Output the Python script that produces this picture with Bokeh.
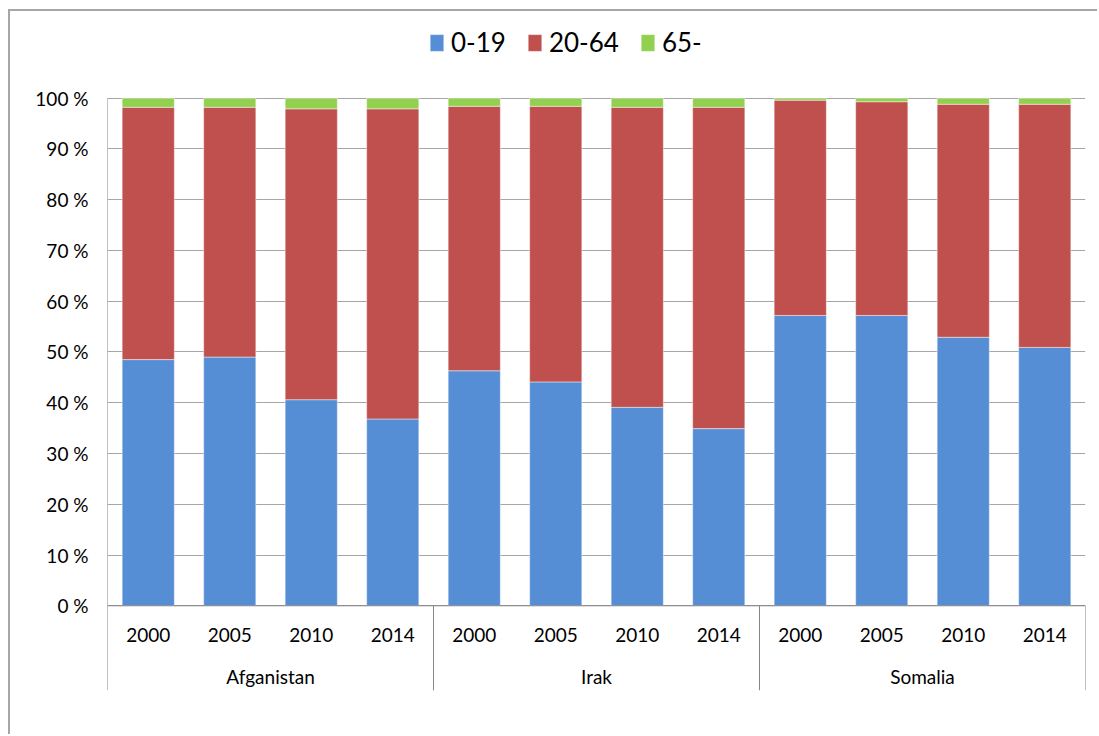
from bokeh.plotting import figure
from bokeh.models import (FactorRange, Range1d, ColumnDataSource, FixedTicker,
                          PrintfTickFormatter, Legend, LegendItem, Span)
from bokeh.core.properties import value
from bokeh.embed import file_html
from bokeh.resources import INLINE

countries = ["Afganistan", "Irak", "Somalia"]
years = ["2000", "2005", "2010", "2014"]
age_groups = ["0-19", "20-64", "65-"]
colors = ["#558ED5", "#C0504D", "#92D050"]

share_0_19 = [48.5, 49.0, 40.6, 36.8, 46.3, 44.1, 39.1, 34.9, 57.2, 57.2, 52.9, 50.9]
share_20_64 = [49.7, 49.2, 57.3, 61.1, 52.1, 54.3, 59.1, 63.3, 42.4, 42.1, 45.9, 47.9]
share_65 = [1.8, 1.8, 2.1, 2.1, 1.6, 1.6, 1.8, 1.8, 0.4, 0.7, 1.2, 1.2]
y_ticks = list(range(0, 101, 10))

FONT = "Lato"
AXIS_GRAY = "#868686"
factors = [(c, y) for c in countries for y in years]
src = ColumnDataSource(dict(x=factors, year=[f[1] for f in factors],
                            young=share_0_19, working=share_20_64, old=share_65))

x_range = FactorRange(*factors, factor_padding=0, group_padding=0, subgroup_padding=0, range_padding=0)
y_range = Range1d(-16.69, 115.3)

p = figure(x_range=x_range, y_range=y_range, width=1089, height=725,
           output_backend="svg", toolbar_location=None, x_axis_location=None,
           min_border_left=97, min_border_right=14, min_border_top=9, min_border_bottom=46)
p.styles = {"margin-left": "8px", "margin-top": "9px",
            "border-left": "2px solid #a6a6a6", "border-top": "2px solid #a6a6a6"}
p.outline_line_color = None
p.background_fill_color = "white"
p.border_fill_color = "white"

renderers = p.vbar_stack(["young", "working", "old"], x="x", width=0.64, color=colors,
                         source=src, line_color="white", line_alpha=0.45, line_width=1)

# y axis (labels only; axis line drawn as the left boundary)
p.yaxis.ticker = FixedTicker(ticks=y_ticks)
p.yaxis.formatter = PrintfTickFormatter(format="%d %%")
p.yaxis.major_tick_out = 0
p.yaxis.major_tick_in = 0
p.yaxis.minor_tick_line_color = None
p.yaxis.axis_line_color = None
p.yaxis.major_label_text_font = FONT
p.yaxis.major_label_text_font_size = "19px"
p.yaxis.major_label_text_color = "black"
p.yaxis.major_label_standoff = 19
p.xgrid.visible = False
p.ygrid.grid_line_color = "#a6a6a6"

# category axis line at 0
p.add_layout(Span(location=0, dimension="width", line_color=AXIS_GRAY, line_width=1))

# group separators (left one doubles as the value-axis line)
bounds = [(c, years[0], -0.5) for c in countries] + [(countries[-1], years[-1], 0.5)]
tops = [y_ticks[-1]] + [0] * (len(bounds) - 1)
p.segment(x0=bounds, x1=bounds, y0=[y_range.start] * len(bounds), y1=tops,
          line_color=AXIS_GRAY, line_width=1)

# year labels
p.text(x="x", y=0, text="year", source=src, y_offset=29,
       text_font=value(FONT), text_font_size="19px", text_color="black",
       text_align="center", text_baseline="middle")

# country labels
p.extra_x_ranges = {"countries": FactorRange(*countries, range_padding=0, factor_padding=0)}
p.text(x=countries, y=[0] * len(countries), text=countries, x_range_name="countries", y_offset=71,
       text_font=value(FONT), text_font_size="19px", text_color="black",
       text_align="center", text_baseline="middle")

legend = Legend(items=[LegendItem(label=g, renderers=[r]) for g, r in zip(age_groups, renderers)],
                orientation="horizontal", location=(321, 632),
                label_text_font=FONT, label_text_font_size="26px", label_text_color="black",
                glyph_width=17, glyph_height=21, label_standoff=6, spacing=20,
                padding=0, margin=0, border_line_color=None, background_fill_alpha=0)
p.add_layout(legend, "center")

open("out.html", "w").write(file_html(p, INLINE))
